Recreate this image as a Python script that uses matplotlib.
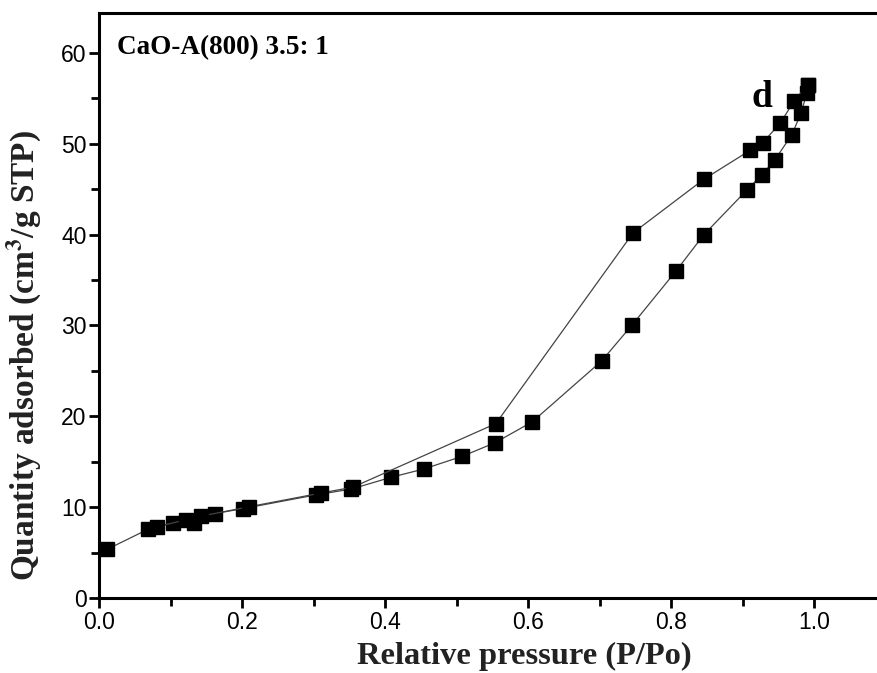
import matplotlib
matplotlib.use("Agg")
import matplotlib.pyplot as plt
from matplotlib.ticker import MultipleLocator

plt.rcParams['mathtext.fontset'] = 'stix'

# adsorption branch
ads_p = [0.011, 0.068, 0.103, 0.133, 0.162, 0.202, 0.303, 0.353, 0.409, 0.454, 0.508,
         0.554, 0.606, 0.703, 0.746, 0.807, 0.846, 0.906, 0.927, 0.945, 0.969, 0.982,
         0.990, 0.991]
ads_q = [5.35, 7.55, 8.3, 8.3, 9.3, 9.85, 11.35, 12.0, 13.3, 14.2, 15.6,
         17.1, 19.4, 26.1, 30.1, 36.0, 40.0, 44.9, 46.6, 48.2, 51.0, 53.4,
         55.6, 56.5]

# desorption branch
des_p = [0.991, 0.972, 0.953, 0.928, 0.911, 0.846, 0.747, 0.555, 0.355, 0.310,
         0.210, 0.142, 0.121, 0.081]
des_q = [56.5, 54.7, 52.3, 50.1, 49.3, 46.1, 40.2, 19.2, 12.2, 11.55,
         10.05, 9.0, 8.6, 7.85]

fig = plt.figure(figsize=(8.78, 6.73), dpi=100)
ax = fig.add_axes([0.1128, 0.1114, 0.8872, 0.8693])

ax.plot(ads_p, ads_q, color='#444444', lw=0.9, marker='s', ms=9.5,
        mfc='black', mec='black')
ax.plot(des_p, des_q, color='#444444', lw=0.9, marker='s', ms=9.5,
        mfc='black', mec='black')

ax.set_xlim(0, 1.0895)
ax.set_ylim(0, 64.4)
ax.xaxis.set_major_locator(MultipleLocator(0.2))
ax.xaxis.set_minor_locator(MultipleLocator(0.1))
ax.yaxis.set_major_locator(MultipleLocator(10))
ax.yaxis.set_minor_locator(MultipleLocator(5))
ax.xaxis.set_major_formatter(matplotlib.ticker.FormatStrFormatter('%.1f'))

for s in ['left', 'bottom', 'top']:
    ax.spines[s].set_linewidth(2.2)
ax.spines['right'].set_visible(False)
ax.tick_params(which='both', direction='out', width=2, top=False, right=False,
               labelsize=16.5, labelfontfamily='Liberation Sans')
ax.tick_params(which='major', length=7, pad=2)
ax.tick_params(which='minor', length=6)

ax.set_xlabel('Relative pressure (P/Po)', fontsize=23.4, fontweight='bold',
              family='Liberation Serif', color='#222222', labelpad=2)
ax.xaxis.set_label_coords(0.5456, -0.075)
ax.set_ylabel('Quantity adsorbed (cm$^{\\mathbf{3}}$/g STP)', fontsize=24,
              fontweight='bold', family='Liberation Serif', color='#222222')
ax.yaxis.set_label_coords(-0.071, 0.415)

ax.text(0.023, 0.962, 'CaO-A(800) 3.5: 1', transform=ax.transAxes, fontsize=19.5,
        fontweight='bold', family='Liberation Serif', va='top')
ax.text(0.838, 0.839, 'd', transform=ax.transAxes, fontsize=27,
        fontweight='bold', family='Liberation Serif', va='baseline')

fig.savefig('out.png', dpi=100)
